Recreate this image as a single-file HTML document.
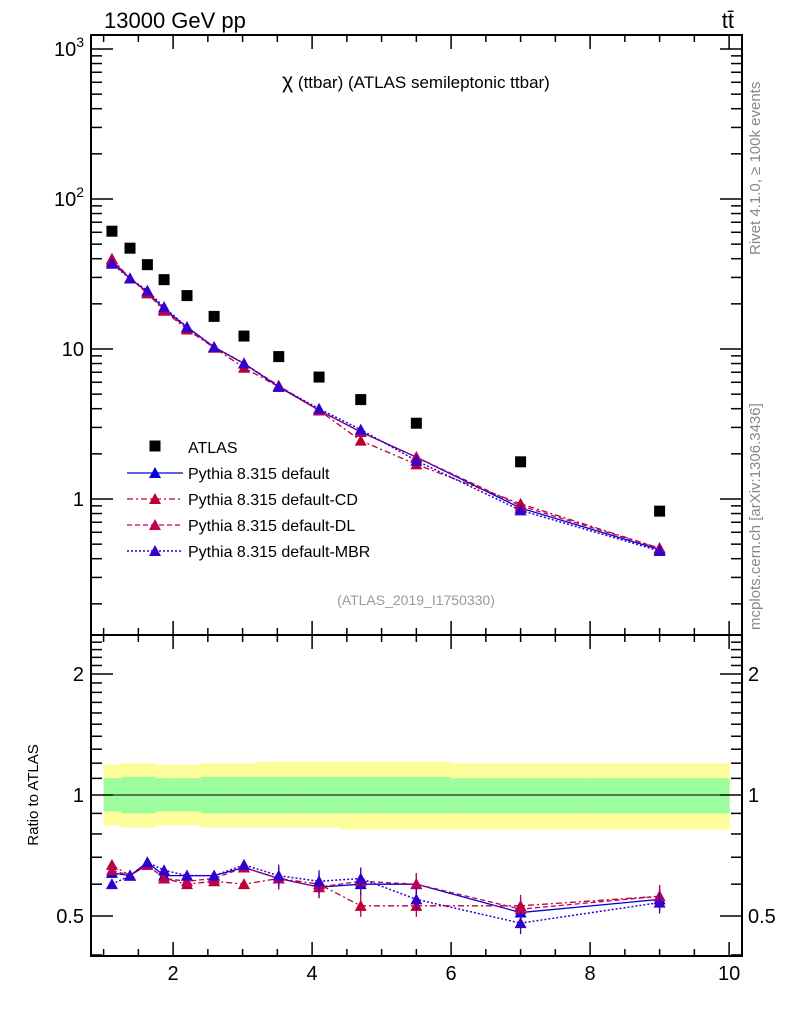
<!DOCTYPE html>
<html><head><meta charset="utf-8"><style>
body{margin:0;background:#fff}
svg{display:block;font-family:"Liberation Sans",sans-serif}
</style></head><body>
<svg id="c" width="786" height="1024" viewBox="0 0 786 1024">
<text x="104" y="28" font-size="22">13000 GeV pp</text>
<text x="734" y="28" font-size="22" text-anchor="end">tt̄</text>
<text x="416" y="88" font-size="17" text-anchor="middle"><tspan font-size="21">χ</tspan> (ttbar) (ATLAS semileptonic ttbar)</text>
<text x="416" y="605" font-size="14" fill="#999" text-anchor="middle">(ATLAS_2019_I1750330)</text>
<text transform="translate(760,255) rotate(-90)" font-size="15" fill="#888">Rivet 4.1.0, ≥ 100k events</text>
<text transform="translate(760,630) rotate(-90)" font-size="15" fill="#888">mcplots.cern.ch [arXiv:1306.3436]</text>
<text transform="translate(38,795) rotate(-90)" font-size="15" text-anchor="middle">Ratio to ATLAS</text>
<g id="g"></g>
</svg>
<script>
const xs=[1.12,1.38,1.63,1.87,2.2,2.59,3.02,3.52,4.1,4.7,5.5,7,9];
const edges=[1,1.25,1.5,1.75,2,2.4,2.8,3.2,3.8,4.4,5,6,8,10];
const atlas=[61,47,36.5,29,22.7,16.5,12.2,8.9,6.5,4.6,3.2,1.77,0.83];
const mcDefault=[38,29.5,24,18.5,14,10.3,8,5.6,3.9,2.8,1.9,0.87,0.46];
const mcCD=[40,29.5,23.5,18,13.5,10.2,7.5,5.6,3.9,2.45,1.7,0.93,0.47];
const mcDL=[39,29.5,24,18.3,13.8,10.3,8,5.7,3.9,2.8,1.9,0.9,0.47];
const mcMBR=[37,29.5,24.5,19,14,10.3,8,5.6,4,2.9,1.8,0.84,0.45];
const rDefault=[0.64,0.63,0.68,0.63,0.63,0.63,0.66,0.62,0.59,0.60,0.60,0.51,0.55];
const rCD=[0.67,0.63,0.67,0.62,0.60,0.61,0.60,0.62,0.60,0.53,0.53,0.53,0.56];
const rDL=[0.65,0.63,0.67,0.62,0.61,0.62,0.66,0.62,0.59,0.61,0.60,0.52,0.56];
const rMBR=[0.60,0.63,0.68,0.65,0.63,0.63,0.67,0.63,0.61,0.62,0.55,0.48,0.54];
const yelHi=[1.19,1.2,1.2,1.19,1.19,1.2,1.2,1.21,1.21,1.21,1.21,1.2,1.2];
const yelLo=[0.84,0.83,0.83,0.84,0.84,0.83,0.83,0.83,0.83,0.82,0.82,0.82,0.82];
const grnHi=[1.1,1.11,1.11,1.1,1.1,1.11,1.11,1.11,1.11,1.11,1.11,1.1,1.1];
const grnLo=[0.91,0.9,0.9,0.91,0.91,0.9,0.9,0.9,0.9,0.9,0.9,0.9,0.9];
const xTicks=[2,4,6,8,10];
const ns="http://www.w3.org/2000/svg",G=document.getElementById('g');
const L=91,R=742,T=35,M=635,B=956;
const X=v=>103.6+(v-1)*69.5;
const Y=v=>499-150*Math.log10(v);
const YR=v=>795-121*Math.log2(v);
function mk(t,a,p){const e=document.createElementNS(ns,t);for(const k in a)e.setAttribute(k,a[k]);(p||G).appendChild(e);return e;}
for(let i=0;i<xs.length;i++){
 const x0=X(edges[i]),w=X(edges[i+1])-x0;
 let r=mk('rect',{x:x0,y:YR(yelHi[i]),width:w+0.5,height:YR(yelLo[i])-YR(yelHi[i]),fill:'#fdfd9c'});
 
 r=mk('rect',{x:x0,y:YR(grnHi[i]),width:w+0.5,height:YR(grnLo[i])-YR(grnHi[i]),fill:'#9cfd9c'});
 
}
mk('line',{x1:L,x2:R,y1:YR(1),y2:YR(1),stroke:'#000','stroke-width':1});
let f=mk('rect',{x:L,y:T,width:R-L,height:M-T,fill:'none',stroke:'#000','stroke-width':2});

f=mk('rect',{x:L,y:M,width:R-L,height:B-M,fill:'none',stroke:'#000','stroke-width':2});

for(let v=1;v<=10.01;v+=0.5){const maj=Math.abs(v-Math.round(v/2)*2)<1e-6,len=maj?14:7,x=X(v);
 for(const [y,d] of [[T,1],[M,-1],[M,1],[B,-1]])mk('line',{x1:x,x2:x,y1:y,y2:y+d*len,stroke:'#000','stroke-width':1.5});}
xTicks.forEach(v=>{const t=mk('text',{x:X(v),y:980,'font-size':20,'text-anchor':'middle'});t.textContent=v;
 });
for(let d=-1;d<=3;d++)for(let m=1;m<=9;m++){const v=m*Math.pow(10,d),y=Y(v);if(y<T||y>M)continue;const len=m==1?22:11;
 mk('line',{x1:L,x2:L+len,y1:y,y2:y,stroke:'#000','stroke-width':1.5});mk('line',{x1:R,x2:R-len,y1:y,y2:y,stroke:'#000','stroke-width':1.5});}
[['1',1],['10',10]].forEach(([s,v])=>{const t=mk('text',{x:84,y:Y(v)+7,'font-size':20,'text-anchor':'end'});t.textContent=s;
 });
[[2,100],[3,1000]].forEach(([e,v])=>{const t=mk('text',{x:84,y:Y(v)+7,'font-size':20,'text-anchor':'end'});t.innerHTML='10<tspan dy="-9" font-size="14">'+e+'</tspan>';
 });
for(let v=0.4;v<=2.5;v+=0.1){const y=YR(v);if(y<M||y>B)continue;const maj=[0.5,1,2].some(m=>Math.abs(m-v)<1e-6);const len=maj?22:11;
 mk('line',{x1:L,x2:L+len,y1:y,y2:y,stroke:'#000','stroke-width':1.5});mk('line',{x1:R,x2:R-len,y1:y,y2:y,stroke:'#000','stroke-width':1.5});}
[['0.5',0.5],['1',1],['2',2]].forEach(([s,v])=>{let t=mk('text',{x:84,y:YR(v)+7,'font-size':20,'text-anchor':'end'});t.textContent=s;
 
 t=mk('text',{x:748,y:YR(v)+7,'font-size':20});t.textContent=s;
 });
const series=[
 ['default',mcDefault,rDefault,'#0000dd','none',1.3],
 ['default-CD',mcCD,rCD,'#bb0033','6,3,2,3',1.3],
 ['default-DL',mcDL,rDL,'#bb0055','5,3',1.3],
 ['default-MBR',mcMBR,rMBR,'#3300cc','2,2',1.5]];
function tri(x,y,c,p){return mk('path',{d:`M${x},${y-6}L${x+6},${y+5}L${x-6},${y+5}Z`,fill:c},p);}
series.forEach(([n,main,rat,c,da,w])=>{
 [[main,Y],[rat,YR]].forEach(([arr,f])=>{
  const g=mk('g',{});
  mk('polyline',{points:xs.map((x,i)=>X(x)+','+f(arr[i])).join(' '),fill:'none',stroke:c,'stroke-width':w,'stroke-dasharray':da},g);
  xs.forEach((x,i)=>{const p=tri(X(x),f(arr[i]),c,g);
   if(f===YR&&i>6){const y=f(arr[i]);mk('line',{x1:X(x),x2:X(x),y1:y-11,y2:y+11,stroke:c,'stroke-width':1.3},g);}});
 });
});
atlas.forEach((v,i)=>{const r=mk('rect',{x:X(xs[i])-5.5,y:Y(v)-5.5,width:11,height:11,fill:'#000'});
 });
const lg=mk('g',{});
mk('rect',{x:149.5,y:440.5,width:11,height:11,fill:'#000'},lg);
let t=mk('text',{x:188,y:453,'font-size':16},lg);t.textContent='ATLAS';

series.forEach(([n,,,c,da,w],i)=>{const y=473+i*26;
 mk('line',{x1:127,x2:183,y1:y,y2:y,stroke:c,'stroke-width':w,'stroke-dasharray':da},lg);tri(155,y,c,lg);
 const tt=mk('text',{x:188,y:y+6,'font-size':16},lg);tt.textContent='Pythia 8.315 '+n;
 });
</script>
</body></html>
